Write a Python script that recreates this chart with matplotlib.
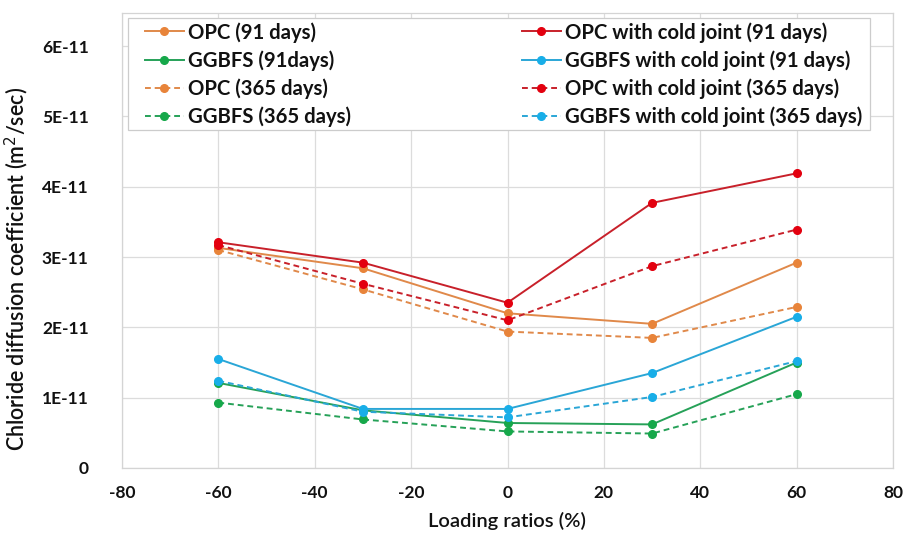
import matplotlib
matplotlib.use("Agg")
import matplotlib.pyplot as plt
from matplotlib.ticker import FuncFormatter
from matplotlib.patches import Rectangle

# ---- data ----
loading = [-60, -30, 0, 30, 60]
opc_91 = [3.13, 2.84, 2.20, 2.05, 2.92]
ggbfs_91 = [1.21, 0.82, 0.64, 0.62, 1.50]
opc_365 = [3.10, 2.54, 1.94, 1.85, 2.29]
ggbfs_365 = [0.93, 0.69, 0.52, 0.49, 1.05]
opc_cj_91 = [3.21, 2.92, 2.35, 3.77, 4.19]
ggbfs_cj_91 = [1.55, 0.84, 0.84, 1.35, 2.15]
opc_cj_365 = [3.17, 2.62, 2.10, 2.87, 3.39]
ggbfs_cj_365 = [1.24, 0.80, 0.72, 1.01, 1.52]
scale = 1e-11

labels = ["OPC (91 days)", "GGBFS (91days)", "OPC (365 days)", "GGBFS (365 days)",
          "OPC with cold joint (91 days)", "GGBFS with cold joint (91 days)",
          "OPC with cold joint (365 days)", "GGBFS with cold joint (365 days)"]
x_ticks = [-80, -60, -40, -20, 0, 20, 40, 60, 80]
y_ticks = [0, 1, 2, 3, 4, 5, 6]

ORANGE_L, ORANGE_M = "#E0894A", "#E8843A"
GREEN_L, GREEN_M = "#26A158", "#16A84A"
RED_L, RED_M = "#C8202A", "#E3000F"
BLUE_L, BLUE_M = "#2AA6D6", "#18AEE8"

series = [
    (opc_91, ORANGE_L, ORANGE_M, "-"),
    (ggbfs_91, GREEN_L, GREEN_M, "-"),
    (opc_365, ORANGE_L, ORANGE_M, "--"),
    (ggbfs_365, GREEN_L, GREEN_M, "--"),
    (opc_cj_91, RED_L, RED_M, "-"),
    (ggbfs_cj_91, BLUE_L, BLUE_M, "-"),
    (opc_cj_365, RED_L, RED_M, "--"),
    (ggbfs_cj_365, BLUE_L, BLUE_M, "--"),
]

plt.rcParams['font.family'] = ['Lato', 'DejaVu Sans']

W, H = 909, 538
fig = plt.figure(figsize=(W/100, H/100), dpi=100)
ax = fig.add_axes([122/W, 1-468/H, (893-122)/W, (468-13)/H])

handles = []
for (vals, lc, mc, ls), lab in zip(series, labels):
    h, = ax.plot(loading, [v*scale for v in vals], color=lc, linestyle=ls,
                 linewidth=1.4, marker='o', markersize=5.5,
                 markerfacecolor=mc, markeredgecolor=mc, label=lab,
                 dashes=(3, 2) if ls == "--" else (None, None), zorder=3)
    handles.append(h)

ax.set_xlim(-80, 80)
ax.set_ylim(0, 6.47e-11)
ax.set_xticks(x_ticks)
ax.set_yticks([t*scale for t in y_ticks])

def yfmt(v, pos):
    n = round(v / scale)
    return "0" if n == 0 else f"{n}E-11"
ax.yaxis.set_major_formatter(FuncFormatter(yfmt))
ax.xaxis.set_major_formatter(FuncFormatter(lambda v, p: f"{int(round(v))}"))

ax.grid(True, color="#dcdcdc", linewidth=0.9, zorder=0)
ax.set_axisbelow(True)
for s in ax.spines.values():
    s.set_color("#d4d4d4")
    s.set_linewidth(0.9)
ax.tick_params(length=0, labelsize=12.5, colors="#111111")
ax.tick_params(axis='y', pad=24)
ax.tick_params(axis='x', pad=12)
for t in ax.get_xticklabels() + ax.get_yticklabels():
    t.set_fontweight("bold")

ax.set_xlabel("Loading ratios (%)", fontsize=14.5, fontweight="semibold",
              color="#111111", labelpad=8)
ax.set_ylabel("Chloride diffusion coefficient (m$^2$/sec)", fontsize=15.5,
              fontweight="semibold", color="#111111")
ax.yaxis.set_label_coords(-(122-31)/(893-122), (468-269)/(468-13))

# legend frame drawn as a separate box
fig.patches.append(Rectangle((128/W, 1-130/H), (870-128)/W, (130-18)/H,
                             transform=fig.transFigure, facecolor="white",
                             edgecolor="#cccccc", linewidth=0.9, zorder=2))

leg = fig.legend(handles=handles, labels=labels, ncol=2,
                 bbox_to_anchor=(145/W, 1-22/H, (862-145)/W, 0.0),
                 loc="upper left", mode="expand", frameon=False,
                 fontsize=14.6, handlelength=1.9, handletextpad=0.2,
                 labelspacing=0.38, borderpad=0.0, borderaxespad=0.0)
leg.set_zorder(5)
for t in leg.get_texts():
    t.set_fontweight("bold")
    t.set_color("#111111")

fig.savefig("out.png", dpi=100)
